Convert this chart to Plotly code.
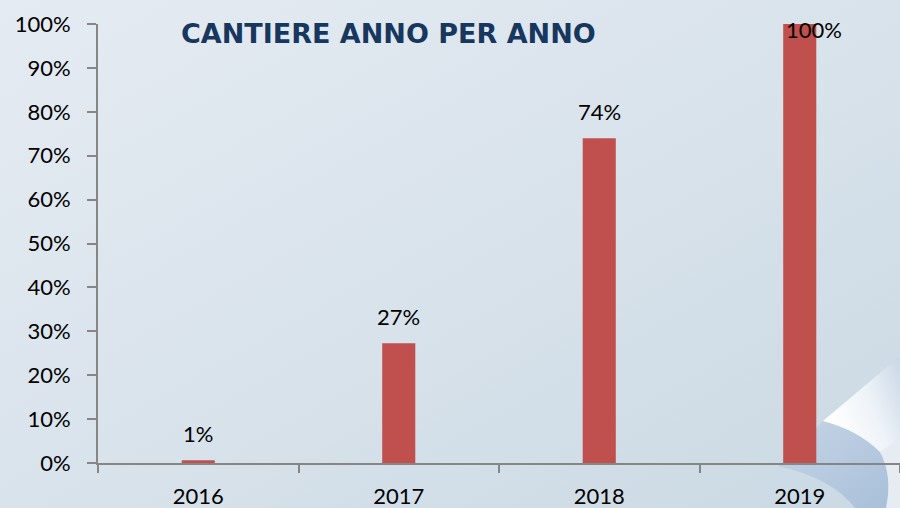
import base64
import plotly.graph_objects as go

# ---- data ----
years = ["2016", "2017", "2018", "2019"]
progress = [0.6, 27.3, 74.0, 100.0]
label_text = ["1%", "27%", "74%", "100%"]
y_ticks = [0, 10, 20, 30, 40, 50, 60, 70, 80, 90, 100]
y_tick_labels = [f"{v}%" for v in y_ticks]
title_text = "CANTIERE ANNO PER ANNO"

W, H = 900, 508
# plot area in pixels
PX_L, PX_R = 98, 900
PY_T, PY_B = 24, 463

FONT = "Lato"
BAR_COLOR = "#C0504D"
AXIS_COLOR = "#868686"

# ---- background (gradient + page curl) as svg ----
svg = f"""<svg xmlns='http://www.w3.org/2000/svg' width='{W}' height='{H}' viewBox='0 0 {W} {H}' preserveAspectRatio='none'>
<defs>
<linearGradient id='bg' x1='0' y1='0' x2='1' y2='1'>
<stop offset='0' stop-color='#E5EBF3'/>
<stop offset='0.5' stop-color='#D9E3EB'/>
<stop offset='1' stop-color='#CAD9E4'/>
</linearGradient>
<linearGradient id='curl' x1='1' y1='0' x2='0' y2='0.5'>
<stop offset='0' stop-color='#C8D7E5'/>
<stop offset='0.5' stop-color='#EEF3F8'/>
<stop offset='1' stop-color='#FFFFFF'/>
</linearGradient>
<linearGradient id='shadow' x1='0' y1='0' x2='1' y2='1'>
<stop offset='0' stop-color='#C6D5E5'/>
<stop offset='1' stop-color='#A9C0DA'/>
</linearGradient>
</defs>
<rect x='0' y='0' width='{W}' height='{H}' fill='url(#bg)'/>
<path d='M823 421 Q858 430 880 452 Q893 476 886 508 L855 508 Q832 478 778 466 Q805 440 823 421 Z' fill='url(#shadow)'/>
<path d='M880 452 Q893 476 886 508 L900 508 L900 438 Z' fill='#E6ECF2'/>
<path d='M900 356 L823 421 Q858 430 880 452 Q890 446 900 438 Z' fill='url(#curl)'/>
</svg>"""
bg_src = "data:image/svg+xml;base64," + base64.b64encode(svg.encode()).decode()

idx = list(range(len(years)))

fig = go.Figure()
fig.add_trace(go.Bar(
    x=idx, y=progress, width=0.165,
    marker=dict(color=BAR_COLOR, line=dict(width=0)),
    hoverinfo="skip", showlegend=False,
))

# data labels above bars (clamped inside the chart area like the original)
px_per_unit = (PY_B - PY_T) / 100.0
annotations = []
for i, v, t in zip(idx, progress, label_text):
    bar_top_px = PY_B - v * px_per_unit
    label_px = bar_top_px - 27
    xshift = 0
    if label_px < PY_T + 6:
        label_px = PY_T + 6
        xshift = 14
    annotations.append(dict(
        x=i, y=v, xref="x", yref="y", text=t, showarrow=False,
        yanchor="middle", xanchor="center",
        yshift=bar_top_px - label_px, xshift=xshift,
        font=dict(family=FONT, size=22, color="#000000"),
    ))

annotations.append(dict(
    x=388.5 / W, y=1 - 34 / H, xref="paper", yref="paper",
    text=f"<b>{title_text}</b>", showarrow=False,
    xanchor="center", yanchor="middle",
    font=dict(family="DejaVu Sans", size=27, color="#17375E"),
))

fig.update_layout(
    width=W, height=H, autosize=False,
    margin=dict(l=0, r=0, t=0, b=0, pad=0),
    paper_bgcolor="#DCE5ED",
    plot_bgcolor="rgba(0,0,0,0)",
    annotations=annotations,
    images=[dict(source=bg_src, xref="paper", yref="paper", x=0, y=1,
                 sizex=1, sizey=1, sizing="stretch", layer="below",
                 xanchor="left", yanchor="top")],
    xaxis=dict(
        domain=[PX_L / W, PX_R / W],
        range=[-0.5, 3.5],
        tickvals=idx, ticktext=years,
        showline=True, linecolor=AXIS_COLOR, linewidth=2,
        ticks="", showgrid=False, zeroline=False,
        tickfont=dict(family=FONT, size=22, color="#000000"),
        ticklabelstandoff=13,
        automargin=False,
        fixedrange=True,
        minor=dict(tickvals=[-0.5, 0.5, 1.5, 2.5, 3.5], ticks="outside",
                   ticklen=8, tickcolor=AXIS_COLOR, tickwidth=2, showgrid=False),
    ),
    yaxis=dict(
        domain=[1 - PY_B / H, 1 - PY_T / H],
        range=[0, 100],
        tickvals=y_ticks, ticktext=y_tick_labels,
        showline=True, linecolor=AXIS_COLOR, linewidth=2,
        ticks="outside", ticklen=9, tickcolor=AXIS_COLOR, tickwidth=2,
        showgrid=False, zeroline=False,
        tickfont=dict(family=FONT, size=22, color="#000000"),
        ticklabelstandoff=12,
        automargin=False,
        fixedrange=True,
    ),
)

fig.write_html("out.html", config={"displayModeBar": False},
               post_script="document.body.style.margin='0';document.body.style.padding='0';")
